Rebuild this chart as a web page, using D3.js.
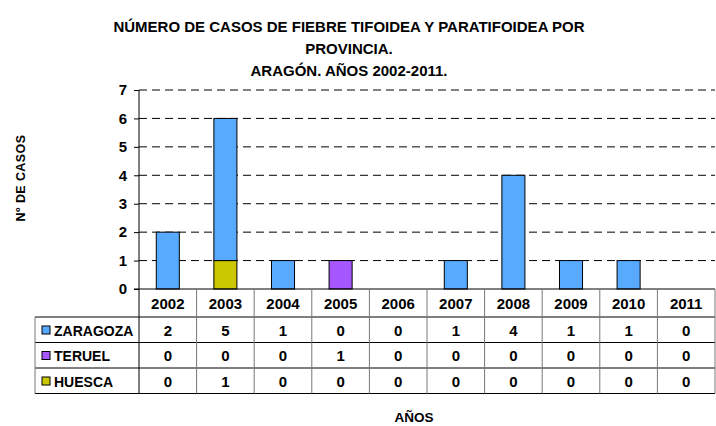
<!DOCTYPE html>
<html>
<head>
<meta charset="utf-8">
<script src="https://cdn.jsdelivr.net/npm/d3@7"></script>
<style>
  body { margin: 0; background: #fff; }
  svg text { font-family: "Liberation Sans", Arial, sans-serif; font-weight: bold; fill: #000; }
</style>
</head>
<body>
<svg id="chart" width="716" height="426"></svg>
<script>
// data
var years = ['2002','2003','2004','2005','2006','2007','2008','2009','2010','2011'];
var zaragoza = [2, 5, 1, 0, 0, 1, 4, 1, 1, 0];
var teruel   = [0, 0, 0, 1, 0, 0, 0, 0, 0, 0];
var huesca   = [0, 1, 0, 0, 0, 0, 0, 0, 0, 0];
var yTicks = [0, 1, 2, 3, 4, 5, 6, 7];
var titleLines = ['NÚMERO DE CASOS DE FIEBRE TIFOIDEA Y PARATIFOIDEA POR', 'PROVINCIA.', 'ARAGÓN. AÑOS 2002-2011.'];

var series = [
  {name: 'ZARAGOZA', values: zaragoza, color: '#57AAFF'},
  {name: 'TERUEL',   values: teruel,   color: '#A757FF'},
  {name: 'HUESCA',   values: huesca,   color: '#CCC800'}
];

var svg = d3.select('#chart');
var plotLeft = 139, plotRight = 715, plotTop = 90, plotBottom = 289;
var rowH = 25.5, headH = 28, tableLeft = 35;

var x = d3.scaleBand().domain(years).range([plotLeft, plotRight]);
var y = d3.scaleLinear().domain([0, 7]).range([plotBottom, plotTop]);

// title
svg.append('text')
  .attr('text-anchor', 'middle')
  .style('font-size', '15px')
  .selectAll('tspan').data(titleLines).enter().append('tspan')
  .attr('x', 349)
  .attr('y', function(d, i) { return 32 + i * 22; })
  .text(function(d) { return d; });

// gridlines
svg.append('g').selectAll('line').data(yTicks.filter(function(d) { return d > 0; })).enter()
  .append('line')
  .attr('x1', plotLeft).attr('x2', plotRight)
  .attr('y1', function(d) { return y(d); }).attr('y2', function(d) { return y(d); })
  .attr('stroke', '#000').attr('stroke-dasharray', '8,5').attr('stroke-width', 1);

// y axis
var yAxis = d3.axisLeft(y).tickValues(yTicks).tickFormat(d3.format('d')).tickSize(5).tickPadding(7);
var gy = svg.append('g').attr('transform', 'translate(' + plotLeft + ',0)').call(yAxis);
gy.select('.domain').remove();
gy.selectAll('.tick line').attr('stroke', '#000');
gy.selectAll('.tick text').style('font-size', '15px').attr('font-family', null);
svg.append('line').attr('x1', plotLeft).attr('x2', plotLeft).attr('y1', plotTop).attr('y2', plotBottom)
  .attr('stroke', '#000');

// stacked bars (bottom to top: HUESCA, TERUEL, ZARAGOZA)
var rows = years.map(function(yr, i) {
  return {year: yr, ZARAGOZA: zaragoza[i], TERUEL: teruel[i], HUESCA: huesca[i]};
});
var stackOrder = ['HUESCA', 'TERUEL', 'ZARAGOZA'];
var stacked = d3.stack().keys(stackOrder)(rows);
var colorOf = {};
series.forEach(function(s) { colorOf[s.name] = s.color; });
var bw = x.bandwidth() * 0.4;

svg.append('g').selectAll('g').data(stacked).enter().append('g')
  .attr('fill', function(d) { return colorOf[d.key]; })
  .selectAll('rect').data(function(d) { return d.filter(function(v) { return v[1] > v[0]; }); })
  .enter().append('rect')
  .attr('x', function(d) { return x(d.data.year) + (x.bandwidth() - bw) / 2; })
  .attr('width', bw)
  .attr('y', function(d) { return y(d[1]); })
  .attr('height', function(d) { return y(d[0]) - y(d[1]); })
  .attr('stroke', '#000').attr('stroke-width', 1);

// data table
var tableTop = plotBottom + headH;
var tableBottom = tableTop + rowH * series.length;
var tbl = svg.append('g');

// horizontal lines
tbl.append('line').attr('x1', plotLeft - 5).attr('x2', plotRight).attr('y1', plotBottom).attr('y2', plotBottom).attr('stroke', '#000');
d3.range(series.length + 1).forEach(function(i) {
  tbl.append('line').attr('x1', tableLeft).attr('x2', plotRight)
    .attr('y1', tableTop + i * rowH).attr('y2', tableTop + i * rowH)
    .attr('stroke', '#000');
});
// vertical lines
tbl.append('line').attr('x1', tableLeft).attr('x2', tableLeft).attr('y1', tableTop).attr('y2', tableBottom).attr('stroke', '#777');
years.forEach(function(yr, i) {
  tbl.append('line').attr('x1', x(yr)).attr('x2', x(yr))
    .attr('y1', plotBottom).attr('y2', tableBottom).attr('stroke', i === 0 ? '#000' : '#777');
});
tbl.append('line').attr('x1', plotRight).attr('x2', plotRight).attr('y1', plotBottom).attr('y2', tableBottom).attr('stroke', '#777');

// year labels
tbl.selectAll('text.year').data(years).enter().append('text')
  .attr('class', 'year')
  .attr('x', function(d) { return x(d) + x.bandwidth() / 2; })
  .attr('y', plotBottom + 20).attr('text-anchor', 'middle')
  .style('font-size', '15px')
  .text(function(d) { return d; });

// rows
series.forEach(function(s, r) {
  var ry = tableTop + r * rowH;
  tbl.append('rect').attr('x', 42).attr('y', ry + 9).attr('width', 8).attr('height', 8)
    .attr('fill', s.color).attr('stroke', '#000').attr('stroke-width', 1);
  tbl.append('text').attr('x', 54).attr('y', ry + 18.5)
    .style('font-size', '14px').text(s.name);
  tbl.selectAll(null).data(s.values).enter().append('text')
    .attr('x', function(d, i) { return x(years[i]) + x.bandwidth() / 2; })
    .attr('y', ry + 18.5).attr('text-anchor', 'middle')
    .style('font-size', '15px')
    .text(function(d) { return d; });
});

// axis titles
svg.append('text').attr('x', 414).attr('y', 422).attr('text-anchor', 'middle')
  .style('font-size', '13.5px').text('AÑOS');
svg.append('text')
  .attr('transform', 'translate(25,178) rotate(-90)')
  .attr('text-anchor', 'middle')
  .style('font-size', '12.5px').style('letter-spacing', '0.4px')
  .text('Nº DE CASOS');
</script>
</body>
</html>
